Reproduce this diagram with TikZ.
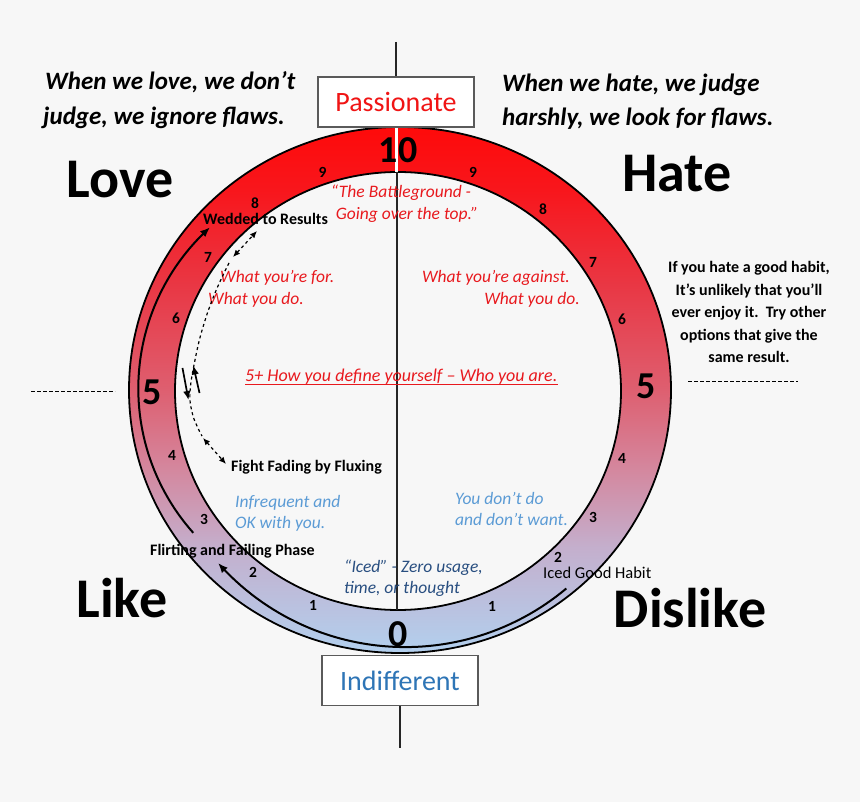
\documentclass[tikz,border=0pt]{standalone}
\usepackage{fontspec}
\setmainfont{Carlito}
\usetikzlibrary{arrows.meta}
\definecolor{bg}{RGB}{247,247,247}
\definecolor{rA}{RGB}{254,10,10}
\definecolor{rB}{RGB}{248,22,28}
\definecolor{rC}{RGB}{233,55,68}
\definecolor{rD}{RGB}{222,95,112}
\definecolor{rE}{RGB}{212,135,158}
\definecolor{rF}{RGB}{196,175,205}
\definecolor{rG}{RGB}{178,208,238}
\definecolor{passred}{RGB}{240,20,20}
\definecolor{txtred}{RGB}{232,25,30}
\definecolor{ltblue}{RGB}{91,155,213}
\definecolor{dkblue}{RGB}{40,78,128}
\definecolor{indblue}{RGB}{46,117,182}
\definecolor{boxgray}{RGB}{90,90,90}
\pgfdeclareverticalshading{ringshade}{100bp}{color(0bp)=(rG); color(25bp)=(rG); color(35bp)=(rF); color(42.5bp)=(rE); color(50bp)=(rD); color(60bp)=(rC); color(69bp)=(rB); color(75bp)=(rA); color(100bp)=(rA)}
\newcommand{\myfs}[1]{\fontsize{#1}{#1}\selectfont}
\begin{document}
\begin{tikzpicture}[x=1pt,y=-1pt,
  txt/.style={inner sep=0pt, anchor=base west},
  ctxt/.style={inner sep=0pt, anchor=base},
  etxt/.style={inner sep=0pt, anchor=base east},
  head/.style={txt, font=\myfs{25}\bfseries\itshape},
  big/.style={ctxt, font=\myfs{56}\bfseries},
  bignum/.style={inner sep=0pt, font=\myfs{38}\bfseries},
  smallnum/.style={inner sep=0pt, font=\myfs{15.5}\bfseries},
  boxnode/.style={draw=boxgray, fill=white, line width=1.2pt, minimum width=156pt, minimum height=50pt, inner sep=0pt, font=\myfs{28}},
  redit/.style={font=\myfs{17.5}\itshape, text=txtred},
  blueit/.style={txt, font=\myfs{17.5}\itshape, text=ltblue},
  dkit/.style={txt, font=\myfs{17.5}\itshape, text=dkblue},
  lbl/.style={font=\myfs{16}\bfseries},
  ringline/.style={draw=black, line width=1.8pt},
  vline/.style={draw=black!85, line width=1.3pt},
  arcline/.style={draw=black, line width=2pt, -{Latex[length=10pt,width=8pt]}},
  dashline/.style={draw=black, line width=1.2pt, dash pattern=on 3pt off 3pt},
  dbl/.style={dashline, {Latex[length=7pt,width=6pt]}-{Latex[length=7pt,width=6pt]}},
  smallarr/.style={draw=black, line width=1.7pt, -{Latex[length=9pt,width=7.5pt]}},
  sep/.style={draw=black, line width=1pt, dash pattern=on 4pt off 2pt}
]
\fill[bg] (0,0) rectangle (860,802);
\useasboundingbox (0,0) rectangle (860,802);

% ring
\shade[shading=ringshade, even odd rule] (400,390) ellipse [x radius=271, y radius=263] (398,391) ellipse [x radius=223, y radius=219];
\draw[ringline] (400,390) ellipse [x radius=271, y radius=263];
\draw[ringline] (398,391) ellipse [x radius=223, y radius=219];

% vertical axis
\coordinate (gtop) at (396,126);
\coordinate (gbot) at (396,172);
\draw[white, line width=3pt] (gtop) -- (gbot);
\coordinate (itop) at (397,172);
\coordinate (ibot) at (397,610);
\draw[vline] (itop) -- (ibot);

\node[boxnode, text=passred] (pass) at (396,102) {Passionate};
\node[boxnode, text=indblue] (ind) at (400,680.5) {Indifferent};
\coordinate (ltop) at (396,42);
\coordinate (lbot) at (400,748);
\draw[vline] (ltop) -- (pass.north);
\draw[vline] (ind.south) -- (lbot);

% headings
\node[head] (lovea) at (45,90) {When we love, we don’t};
\node[head] (loveb) at (43,125) {judge, we ignore flaws.};
\node[head] (hatea) at (502,92) {When we hate, we judge};
\node[head] (hateb) at (502,126) {harshly, we look for flaws.};

\node[big] (love) at (120,198) {Love};
\node[big] (hate) at (677,192) {Hate};
\node[big] (like) at (122,617) {Like};
\node[big] (dislike) at (690,627) {Dislike};

% ring numbers
\node[bignum] (n10) at (398,150) {10};
\node[bignum] (n0) at (398,634) {0};
\node[bignum] (n5l) at (152,392) {5};
\node[bignum] (n5r) at (646,386) {5};
\node[smallnum] (l9) at (322.5,172.5) {9};
\node[smallnum] (l8) at (255,203) {8};
\node[smallnum] (l7) at (208,257) {7};
\node[smallnum] (l6) at (176,318) {6};
\node[smallnum] (l4) at (172,455) {4};
\node[smallnum] (l3) at (204,519) {3};
\node[smallnum] (l2) at (253,572) {2};
\node[smallnum] (l1) at (313,605) {1};
\node[smallnum] (r9) at (473,172) {9};
\node[smallnum] (r8) at (543,209) {8};
\node[smallnum] (r7) at (593,262) {7};
\node[smallnum] (r6) at (622,319) {6};
\node[smallnum] (r4) at (622,458) {4};
\node[smallnum] (r3) at (593,517) {3};
\node[smallnum] (r2) at (558,557) {2};
\node[smallnum] (r1) at (492,606) {1};

% inner texts
\node[redit, ctxt] (bg1) at (401,198) {“The Battleground -};
\node[redit, ctxt] (bg2) at (407,220) {Going over the top.”};
\node[redit, txt] (for1) at (220,283) {What you’re for.};
\node[redit, txt] (for2) at (208,305) {What you do.};
\node[redit, etxt] (ag1) at (570,283) {What you’re against.};
\node[redit, etxt] (ag2) at (580,305) {What you do.};
\node[redit, txt, font=\myfs{18}\itshape] (def) at (245,382) {5+ How you define yourself – Who you are.};
\draw[txtred, line width=1.2pt] ([yshift=-2.5pt]def.base west) -- ([yshift=-2.5pt]def.base east);

\node[blueit] (inf1) at (235,507) {Infrequent and};
\node[blueit] (inf2) at (235,528) {OK with you.};
\node[blueit] (dw1) at (455,504) {You don’t do};
\node[blueit] (dw2) at (455,525) {and don’t want.};
\node[dkit] (ic1) at (344,572) {“Iced” - Zero usage,};
\node[dkit] (ic2) at (344,593) {time, or thought};

\node[lbl, txt] (wed) at (203,225) {Wedded to Results};
\node[lbl, txt] (fight) at (231,471) {Fight Fading by Fluxing};
\node[lbl, txt] (flirt) at (150,555) {Flirting and Failing Phase};
\node[txt, font=\myfs{16.5}] (iced) at (543,578) {Iced Good Habit};

% right paragraph
\node[lbl, ctxt] (p1) at (749,273) {If you hate a good habit,};
\node[lbl, ctxt] (p2) at (749,296) {It’s unlikely that you’ll};
\node[lbl, ctxt] (p3) at (749,318) {ever enjoy it.\ \ Try other};
\node[lbl, ctxt] (p4) at (749,341) {options that give the};
\node[lbl, ctxt] (p5) at (749,363) {same result.};

% separators
\coordinate (sl1) at (31,392);
\coordinate (sl2) at (115,392);
\coordinate (sr1) at (688,382);
\coordinate (sr2) at (798,382);
\draw[sep] (sl1) -- (sl2);
\draw[sep] (sr1) -- (sr2);

% arcs
\draw[arcline] plot[domain=138.3:228, samples=60, variable=\t] ({355.3+217*cos(\t)}, {388.5+217*sin(\t)});
\draw[arcline] plot[domain=50:138.4, samples=60, variable=\t] ({405.3+250.5*cos(\t)}, {396.6+250.5*sin(\t)});

% dashed flux path
\coordinate (da) at (233,257);
\coordinate (db) at (257,231);
\coordinate (dc) at (203,438);
\coordinate (dd) at (226,464);
\draw[dbl] (da) -- (db);
\draw[dbl] (dc) -- (dd);
\draw[dashline] plot[smooth, tension=0.7] coordinates {(229,263) (215,293) (203,327) (195,360) (190,392) (192,412) (197,426) (202,436)};

% small arrows near 5
\coordinate (sa1) at (182.5,368);
\coordinate (sa2) at (188.5,400);
\coordinate (sb1) at (199.5,393);
\coordinate (sb2) at (193.3,365.5);
\draw[smallarr] (sa1) -- (sa2);
\draw[smallarr] (sb1) -- (sb2);
\end{tikzpicture}
\end{document}
